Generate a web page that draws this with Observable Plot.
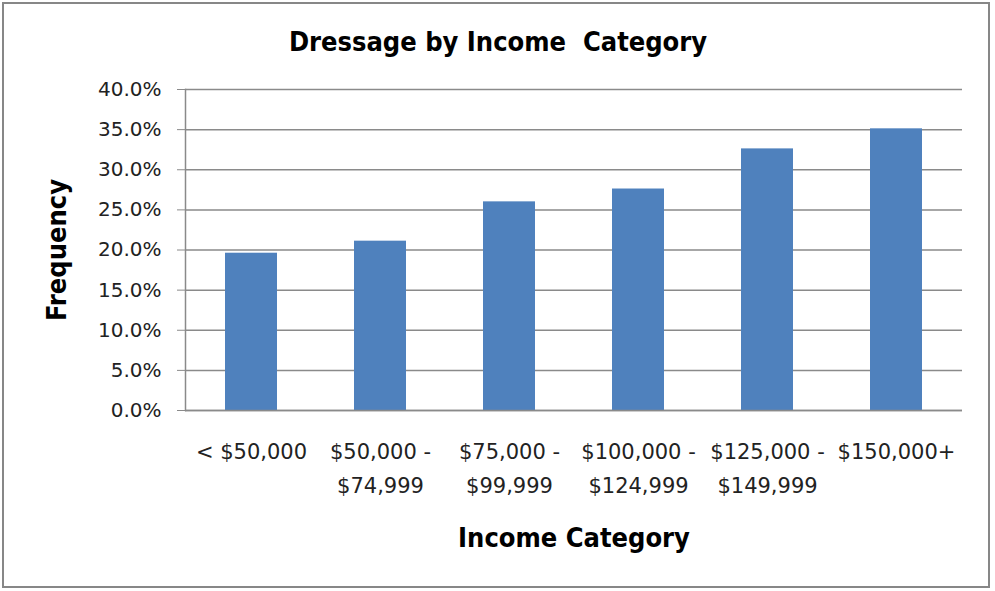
<!DOCTYPE html>
<html>
<head>
<meta charset="utf-8">
<script src="https://cdn.jsdelivr.net/npm/d3@7"></script>
<script src="https://cdn.jsdelivr.net/npm/@observablehq/plot@0.6"></script>
<style>
  html, body { margin: 0; padding: 0; background: #fff; }
  #wrap { position: relative; width: 995px; height: 591px; }
  #border { position: absolute; left: 2px; top: 2px; width: 988px; height: 586px; box-sizing: border-box; border: 2px solid #878787; pointer-events: none; }
</style>
</head>
<body>
<div id="wrap"><div id="border"></div></div>
<script>
const categories = ["< $50,000", "$50,000 -\n$74,999", "$75,000 -\n$99,999", "$100,000 -\n$124,999", "$125,000 -\n$149,999", "$150,000+"];
const frequencies = [0.196, 0.211, 0.260, 0.276, 0.326, 0.351];
const yTicks = [0, 0.05, 0.10, 0.15, 0.20, 0.25, 0.30, 0.35, 0.40];
const titleText = "Dressage by Income  Category";
const xLabel = "Income Category";
const yLabel = "Frequency";

const data = categories.map((c, i) => ({category: c, value: frequencies[i]}));
const boldFont = "DejaVu Sans Condensed, DejaVu Sans, sans-serif";

const chart = Plot.plot({
  width: 995,
  height: 591,
  marginLeft: 185,
  marginRight: 33,
  marginTop: 89,
  marginBottom: 181,
  style: {fontFamily: "DejaVu Sans, sans-serif", background: "transparent", color: "#222"},
  x: {domain: categories, paddingInner: 0.6, paddingOuter: 0.3, label: null},
  y: {domain: [0, 0.4], label: null},
  marks: [
    Plot.gridY(yTicks, {stroke: "#8a8a8a", strokeOpacity: 1, strokeWidth: 1.5}),
    Plot.frame({anchor: "left", stroke: "#8a8a8a", strokeWidth: 1.5}),
    Plot.barY(data, {x: "category", y: "value", fill: "#4F81BD"}),
    Plot.ruleY([0], {stroke: "#8a8a8a", strokeWidth: 1.5}),
    Plot.axisY(yTicks, {tickFormat: d3.format(".1%"), tickSize: 8, tickPadding: 16, stroke: "#8a8a8a", fontSize: 20, fill: "#222", label: null}),
    Plot.axisX({tickSize: 0, tickPadding: 24, fontSize: 21, lineHeight: 1.62, fill: "#222", label: null}),
    Plot.text([titleText], {frameAnchor: "top", dy: -58, dx: -76, fontSize: 27, fontWeight: "bold", fontFamily: boldFont, fill: "#000"}),
    Plot.text([xLabel], {frameAnchor: "bottom", dy: 136, fontSize: 27, fontWeight: "bold", fontFamily: boldFont, fill: "#000"}),
    Plot.text([yLabel], {frameAnchor: "left", textAnchor: "middle", dx: -128, rotate: -90, fontSize: 27, fontWeight: "bold", fontFamily: boldFont, fill: "#000"})
  ]
});
document.getElementById("wrap").prepend(chart);
</script>
</body>
</html>
